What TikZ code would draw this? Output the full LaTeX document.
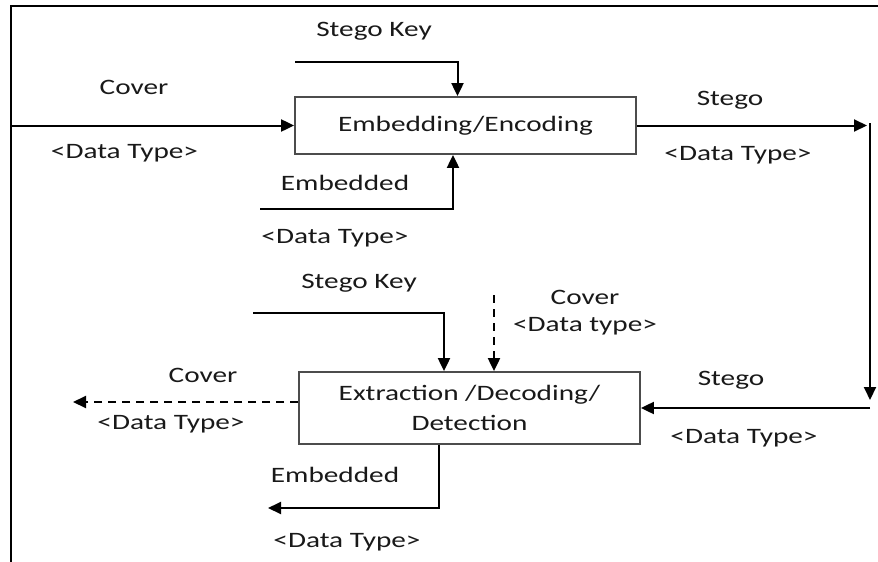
\documentclass[tikz,border=0pt]{standalone}
\usepackage{fontspec}
\setmainfont{Carlito}[FakeStretch=1.33]
\usetikzlibrary{calc,arrows.meta}

\tikzset{
  blk/.style={draw=black!70, line width=1.8pt, minimum width=341pt, align=center,
    font=\fontsize{22}{30}\selectfont, text=black!90},
  lbl/.style={font=\fontsize{22}{26}\selectfont, text=black!90, inner sep=0pt},
  arr/.style={line width=2pt, -{Triangle[length=13pt,width=12pt]}},
  dasharr/.style={arr, dash pattern=on 8pt off 6pt}
}

\begin{document}
\begin{tikzpicture}[x=1pt,y=-1pt]
  \useasboundingbox (0,0) rectangle (878,562);
  % 外枠(上と左)
  \draw[line width=2.2pt] (878,6) -- (11,6) -- (11,562);

  % 埋め込み側のブロック
  \node[blk, minimum height=57pt] (emb) at (465.5,125.5) {Embedding/Encoding};
  % 抽出側のブロック
  \node[blk, minimum height=72pt] (ext) at (469.5,408) {Extraction /Decoding/\\Detection};

  % 線の端点
  \coordinate (coverin) at (11,125.5);
  \coordinate (keyA) at (295,62);
  \coordinate (embA) at (260,209);
  \coordinate (turnA) at (867,125.5);
  \coordinate (turnB) at (870,123);
  \coordinate (turnC) at (870,400);
  \coordinate (turnD) at (870,408);
  \coordinate (keyB) at (253,313);
  \coordinate (coverB) at (494,295);
  \coordinate (coverout) at (73,402);
  \coordinate (embout) at (268,508);

  % 上側の矢印
  \draw[arr] (coverin) -- (emb.west);
  \draw[arr] (keyA) -| ([xshift=-8pt]emb.north);
  \draw[arr] (embA) -| ([xshift=-12.5pt]emb.south);
  \draw[arr] (emb.east) -- (turnA);
  % 右側の縦線
  \draw[arr] (turnB) -- (turnC);
  % 下側の矢印
  \draw[arr] (turnD) -- (ext.east);
  \draw[arr] (keyB) -| ([xshift=-25.5pt]ext.north);
  \draw[dasharr] (coverB) -- ([xshift=24.5pt]ext.north);
  \draw[dasharr] ([yshift=6pt]ext.west) -- (coverout);
  \draw[arr] ([xshift=-30.5pt]ext.south) |- (embout);

  % ラベル
  \node[lbl] (keylblA) at (374,31) {Stego Key};
  \node[lbl] (coverlblA) at (134,87) {Cover};
  \node[lbl] (typeA) at (124.5,153) {<Data Type>};
  \node[lbl] (emblblA) at (345,183) {Embedded};
  \node[lbl] (typeB) at (335,238) {<Data Type>};
  \node[lbl] (stegolblA) at (730,100) {Stego};
  \node[lbl] (typeC) at (738,155) {<Data Type>};

  \node[lbl] (keylblB) at (359,283) {Stego Key};
  \node[lbl] (coverlblB) at (585,297) {Cover};
  \node[lbl] (typeD) at (585,326) {<Data type>};
  \node[lbl] (stegolblB) at (731,380) {Stego};
  \node[lbl] (typeE) at (744,438) {<Data Type>};
  \node[lbl] (coverlblC) at (203,375) {Cover};
  \node[lbl] (typeF) at (171,424) {<Data Type>};
  \node[lbl] (emblblB) at (335,475) {Embedded};
  \node[lbl] (typeG) at (347,542) {<Data Type>};
\end{tikzpicture}
\end{document}
